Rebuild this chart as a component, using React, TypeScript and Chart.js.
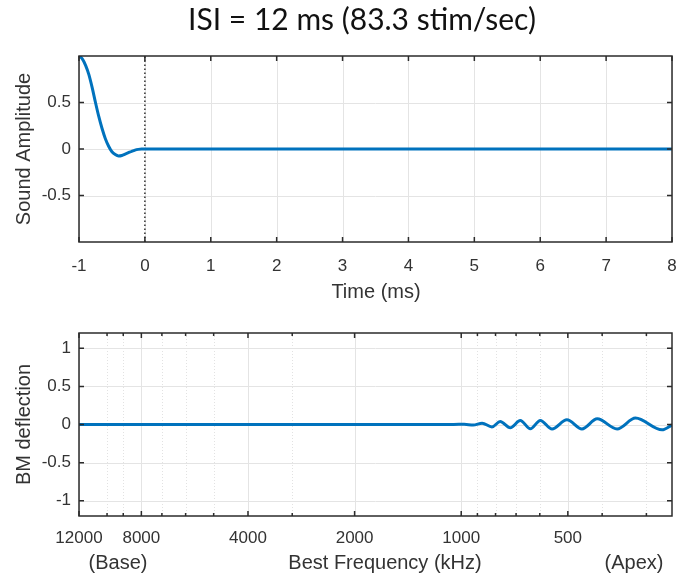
import React, { useEffect, useRef } from "react";
import { Chart, registerables } from "chart.js";

Chart.register(...registerables);

// ---------- DATA ----------
const TITLE = "ISI = 12 ms (83.3 stim/sec)";

// Top panel: sound waveform (time in ms)
const timeMs = [-1, -0.95, -0.9, -0.85, -0.8, -0.75, -0.7, -0.65, -0.6, -0.55, -0.5, -0.45, -0.4, -0.35, -0.3, -0.25, -0.2, -0.15, -0.1, -0.05, 0, 1, 2, 3, 4, 5, 6, 7, 8];
const soundAmp = [1.0, 0.97, 0.9, 0.8, 0.66, 0.5, 0.35, 0.22, 0.11, 0.03, -0.03, -0.06, -0.075, -0.07, -0.055, -0.04, -0.025, -0.012, -0.004, 0, 0, 0, 0, 0, 0, 0, 0, 0, 0];
const stimOnsetMs = 0;
const timeTicks = [-1, 0, 1, 2, 3, 4, 5, 6, 7, 8];
const ampTicks = [-0.5, 0, 0.5];

// Bottom panel: basilar membrane deflection vs best frequency (Hz)
const bestFreqHz = [12000, 1050, 981, 925, 873, 819, 776, 727, 681, 638, 598, 554, 503, 456, 413, 363, 322, 271, 254];
const bmDeflection = [0, 0, 0.004, -0.008, 0.018, -0.032, 0.039, -0.043, 0.052, -0.056, 0.054, -0.058, 0.062, -0.058, 0.074, -0.058, 0.084, -0.07, -0.006];
const freqMajorTicks = [12000, 8000, 4000, 2000, 1000, 500];
const freqMinorTicks = [10000, 9000, 7000, 6000, 5000, 3000, 900, 800, 700, 600, 400, 300];
const bmTicks = [-1, -0.5, 0, 0.5, 1];

// ---------- STYLE ----------
const AXIS_FONT = '"Liberation Sans", Arial, sans-serif';
const TITLE_FONT = 'Lato, "Open Sans", sans-serif';
const TEXT_COLOR = "#333333";
const LINE_BLUE = "#0072BD";
const W = 684;

type TextItem = { text: string; x: number; y: number; size: number; rotate?: boolean; family?: string; color?: string };

const matlabAxes = {
  id: "matlabAxes",
  beforeDatasetsDraw(chart: any, _args: any, opts: any) {
    const { ctx, chartArea: a, scales } = chart;
    ctx.save();
    ctx.lineWidth = 1;
    const xs = scales.x;
    const ys = scales.y;
    for (const v of opts.xGridMinor || []) {
      const px = Math.round(xs.getPixelForValue(v)) + 0.5;
      ctx.strokeStyle = "#e2e2e2";
      ctx.setLineDash([1, 2]);
      ctx.beginPath(); ctx.moveTo(px, a.top); ctx.lineTo(px, a.bottom); ctx.stroke();
    }
    ctx.setLineDash([]);
    ctx.strokeStyle = "#e4e4e4";
    for (const v of opts.xGrid || []) {
      const px = Math.round(xs.getPixelForValue(v)) + 0.5;
      ctx.beginPath(); ctx.moveTo(px, a.top); ctx.lineTo(px, a.bottom); ctx.stroke();
    }
    for (const v of opts.yGrid || []) {
      const py = Math.round(ys.getPixelForValue(v)) + 0.5;
      ctx.beginPath(); ctx.moveTo(a.left, py); ctx.lineTo(a.right, py); ctx.stroke();
    }
    ctx.restore();
  },
  afterDatasetsDraw(chart: any, _args: any, opts: any) {
    const { ctx, chartArea: a, scales } = chart;
    const xs = scales.x;
    const ys = scales.y;
    ctx.save();
    ctx.strokeStyle = "#2b2b2b";
    ctx.lineWidth = 1.5;
    ctx.setLineDash([]);
    ctx.strokeRect(a.left, a.top, a.right - a.left, a.bottom - a.top);
    const tick = (px: number, len: number, horizontal: boolean) => {
      ctx.beginPath();
      if (horizontal) {
        ctx.moveTo(px, a.bottom); ctx.lineTo(px, a.bottom - len);
        ctx.moveTo(px, a.top); ctx.lineTo(px, a.top + len);
      } else {
        ctx.moveTo(a.left, px); ctx.lineTo(a.left + len, px);
        ctx.moveTo(a.right, px); ctx.lineTo(a.right - len, px);
      }
      ctx.stroke();
    };
    for (const v of opts.xGrid || []) tick(xs.getPixelForValue(v), 5, true);
    for (const v of opts.xGridMinor || []) tick(xs.getPixelForValue(v), 3, true);
    for (const v of opts.yGrid || []) tick(ys.getPixelForValue(v), 5, false);
    ctx.restore();
  },
  afterDraw(chart: any, _args: any, opts: any) {
    const { ctx } = chart;
    ctx.save();
    for (const t of (opts.texts || []) as TextItem[]) {
      ctx.font = `${t.size}px ${t.family || AXIS_FONT}`;
      ctx.fillStyle = t.color || TEXT_COLOR;
      ctx.textAlign = "center";
      ctx.textBaseline = "alphabetic";
      if (t.rotate) {
        ctx.save();
        ctx.translate(t.x, t.y);
        ctx.rotate(-Math.PI / 2);
        ctx.fillText(t.text, 0, 0);
        ctx.restore();
      } else {
        ctx.fillText(t.text, t.x, t.y);
      }
    }
    ctx.restore();
  },
};

const fixX = (h: number) => (s: any) => {
  s.height = h;
  s.paddingLeft = 0;
  s.paddingRight = 0;
};

function TopPanel() {
  const ref = useRef<HTMLCanvasElement>(null);
  useEffect(() => {
    const chart = new Chart(ref.current!, {
      type: "line",
      data: {
        datasets: [
          {
            data: timeMs.map((t, i) => ({ x: t, y: soundAmp[i] })),
            borderColor: LINE_BLUE,
            borderWidth: 3,
            pointRadius: 0,
            cubicInterpolationMode: "monotone",
            order: 1,
          },
          {
            data: [{ x: stimOnsetMs, y: -1 }, { x: stimOnsetMs, y: 1 }],
            borderColor: "#222222",
            borderWidth: 1.4,
            borderDash: [1.4, 2.6],
            pointRadius: 0,
            order: 2,
          },
        ],
      },
      options: {
        animation: false,
        responsive: false,
        devicePixelRatio: 1,
        layout: { padding: { top: 56, left: 0, right: 12, bottom: 0 } },
        plugins: {
          legend: { display: false },
          tooltip: { enabled: false },
          matlabAxes: {
            xGrid: timeTicks,
            yGrid: ampTicks,
            texts: [
              { text: TITLE, x: 362, y: 30, size: 30, family: TITLE_FONT, color: "#111111" },
              { text: "Time (ms)", x: 376, y: 298, size: 20 },
              { text: "Sound Amplitude", x: 30, y: 149, size: 20, rotate: true },
            ],
          },
        } as any,
        scales: {
          x: {
            type: "linear",
            min: -1,
            max: 8,
            afterBuildTicks: (s: any) => { s.ticks = timeTicks.map((v) => ({ value: v })); },
            afterFit: fixX(68),
            grid: { display: false, drawTicks: false },
            border: { display: false },
            ticks: { font: { family: AXIS_FONT, size: 17 }, color: TEXT_COLOR, padding: 14, maxRotation: 0, autoSkip: false, callback: (v: any) => String(v) },
          },
          y: {
            type: "linear",
            min: -1,
            max: 1,
            afterBuildTicks: (s: any) => { s.ticks = ampTicks.map((v) => ({ value: v })); },
            afterFit: (s: any) => { s.width = 79; },
            grid: { display: false, drawTicks: false },
            border: { display: false },
            ticks: { font: { family: AXIS_FONT, size: 17 }, color: TEXT_COLOR, padding: 8, autoSkip: false, callback: (v: any) => String(v) },
          },
        },
      },
      plugins: [matlabAxes as any],
    });
    return () => chart.destroy();
  }, []);
  return <canvas ref={ref} width={W} height={310} style={{ position: "absolute", left: 0, top: 0, width: W, height: 310 }} />;
}

function BottomPanel() {
  const ref = useRef<HTMLCanvasElement>(null);
  useEffect(() => {
    const chart = new Chart(ref.current!, {
      type: "line",
      data: {
        datasets: [
          {
            data: bestFreqHz.map((f, i) => ({ x: f, y: bmDeflection[i] })),
            borderColor: LINE_BLUE,
            borderWidth: 3,
            pointRadius: 0,
            cubicInterpolationMode: "monotone",
          },
        ],
      },
      options: {
        animation: false,
        responsive: false,
        devicePixelRatio: 1,
        layout: { padding: { top: 23, left: 0, right: 12, bottom: 0 } },
        plugins: {
          legend: { display: false },
          tooltip: { enabled: false },
          matlabAxes: {
            xGrid: freqMajorTicks,
            xGridMinor: freqMinorTicks,
            yGrid: bmTicks,
            texts: [
              { text: "BM deflection", x: 30, y: 114.5, size: 20, rotate: true },
              { text: "(Base)", x: 118, y: 259, size: 20 },
              { text: "Best Frequency (kHz)", x: 385, y: 259, size: 20 },
              { text: "(Apex)", x: 634, y: 259, size: 20 },
            ],
          },
        } as any,
        scales: {
          x: {
            type: "logarithmic",
            reverse: true,
            min: 254,
            max: 12000,
            afterBuildTicks: (s: any) => {
              s.ticks = [...freqMajorTicks, ...freqMinorTicks].sort((a, b) => b - a).map((v) => ({ value: v }));
            },
            afterFit: fixX(62),
            grid: { display: false, drawTicks: false },
            border: { display: false },
            ticks: {
              font: { family: AXIS_FONT, size: 17 },
              color: TEXT_COLOR,
              padding: 12,
              maxRotation: 0,
              autoSkip: false,
              callback: (v: any) => (freqMajorTicks.includes(Number(v)) ? String(v) : ""),
            },
          },
          y: {
            type: "linear",
            min: -1.2,
            max: 1.2,
            afterBuildTicks: (s: any) => { s.ticks = bmTicks.map((v) => ({ value: v })); },
            afterFit: (s: any) => { s.width = 79; },
            grid: { display: false, drawTicks: false },
            border: { display: false },
            ticks: { font: { family: AXIS_FONT, size: 17 }, color: TEXT_COLOR, padding: 8, autoSkip: false, callback: (v: any) => String(v) },
          },
        },
      },
      plugins: [matlabAxes as any],
    });
    return () => chart.destroy();
  }, []);
  return <canvas ref={ref} width={W} height={268} style={{ position: "absolute", left: 0, top: 310, width: W, height: 268 }} />;
}

export default function App() {
  return (
    <div style={{ position: "absolute", left: 0, top: 0, width: W, height: 578, background: "#ffffff", overflow: "hidden" }}>
      <TopPanel />
      <BottomPanel />
    </div>
  );
}
